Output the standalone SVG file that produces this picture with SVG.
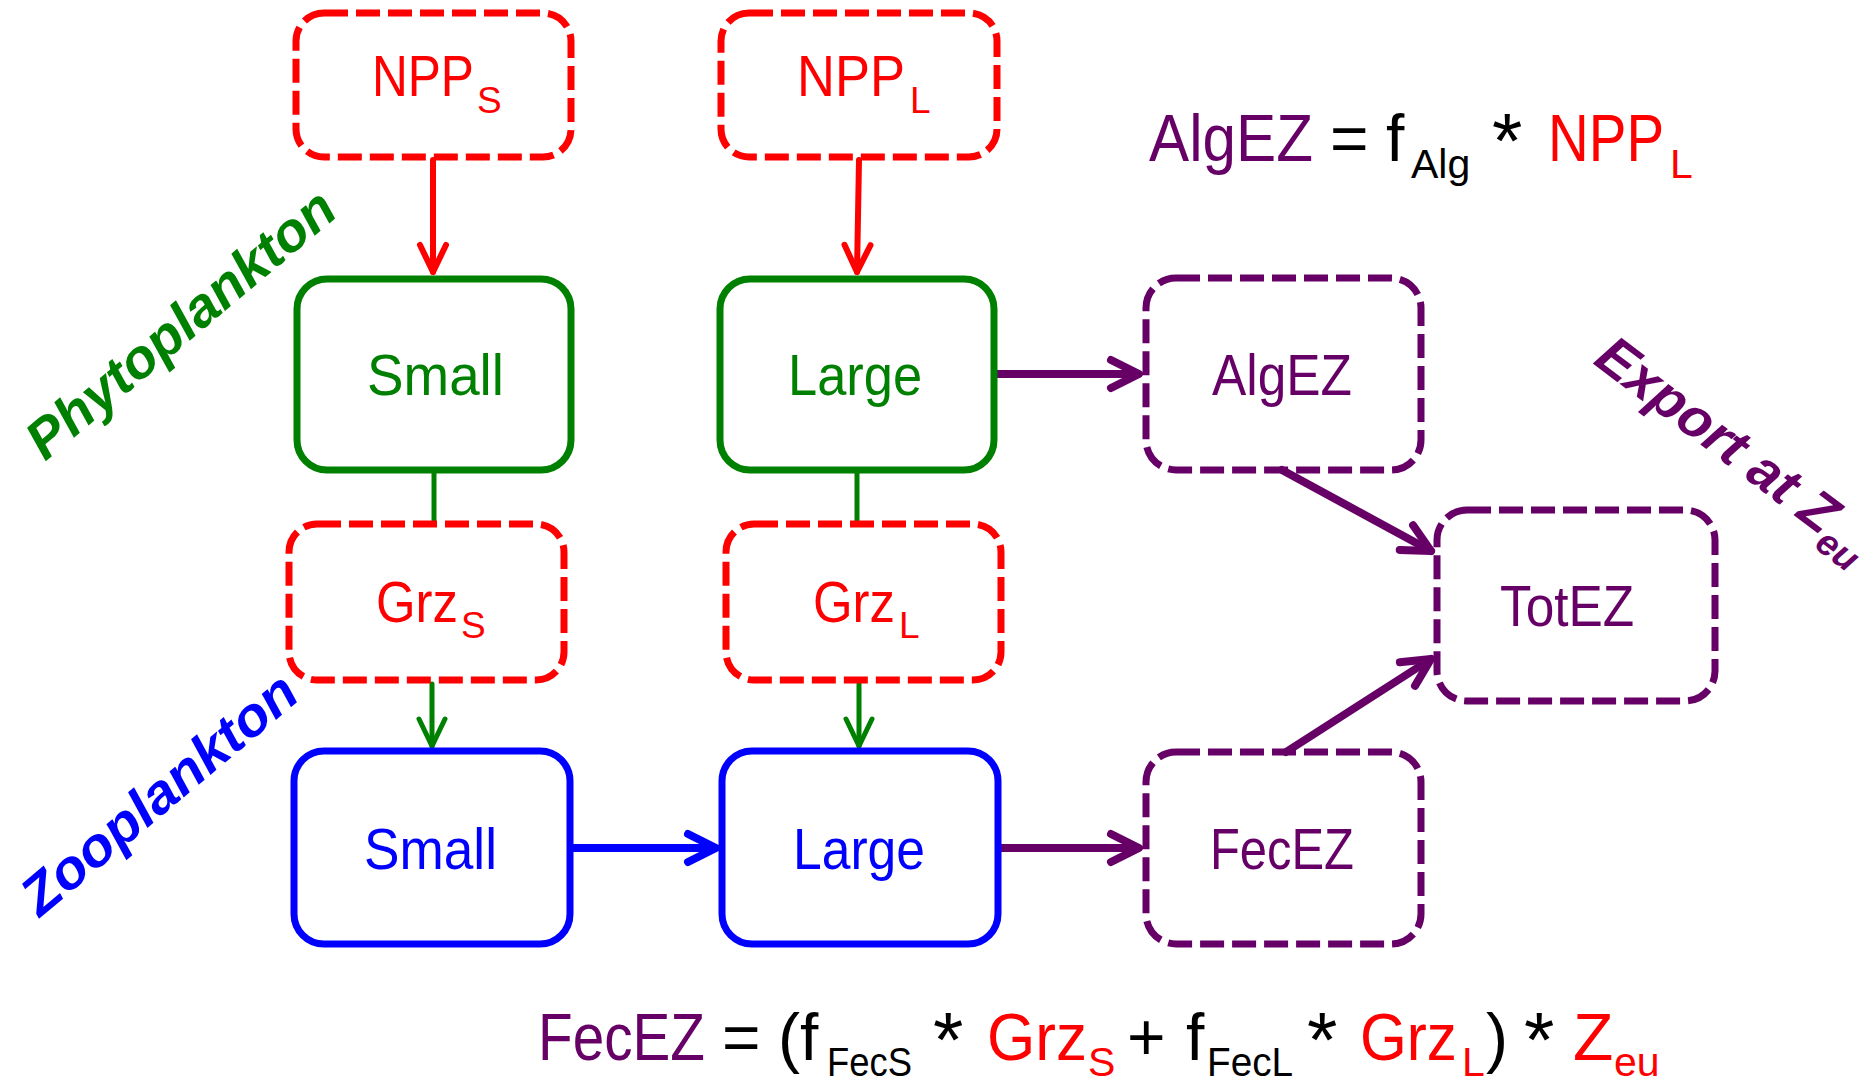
<svg xmlns="http://www.w3.org/2000/svg" width="1876" height="1082" viewBox="0 0 1876 1082">
<style>
text{font-family:"Liberation Sans",Arial,sans-serif}
.box{fill:none;stroke-width:7}
.dash{stroke-dasharray:24 8}
.r{stroke:#ff0000}.g{stroke:#008000}.b{stroke:#0000ff}.p{stroke:#660066}
.tr{fill:#ff0000}.tg{fill:#008000}.tb{fill:#0000ff}.tp{fill:#660066}.tk{fill:#000000}
.lbl{font-size:57px}
.sub{font-size:37px}
.eq{font-size:66px}
.eqs{font-size:41px}
.ast{font-size:78px}
.side{font-size:55px;font-weight:bold;font-style:italic}
.c{fill:none;stroke-linecap:round}
</style>
<defs>
<marker id="mr" markerUnits="userSpaceOnUse" orient="auto" overflow="visible" refX="0" refY="0" markerWidth="40" markerHeight="40"><path d="M-27,-13 L0,0 L-27,13" fill="none" stroke="#ff0000" stroke-width="6" stroke-linecap="round" stroke-linejoin="round"/></marker>
<marker id="mg" markerUnits="userSpaceOnUse" orient="auto" overflow="visible" refX="0" refY="0" markerWidth="40" markerHeight="40"><path d="M-27,-13 L0,0 L-27,13" fill="none" stroke="#008000" stroke-width="5" stroke-linecap="round" stroke-linejoin="round"/></marker>
<marker id="mb" markerUnits="userSpaceOnUse" orient="auto" overflow="visible" refX="0" refY="0" markerWidth="40" markerHeight="40"><path d="M-28,-14 L0,0 L-28,14" fill="none" stroke="#0000ff" stroke-width="8" stroke-linecap="round" stroke-linejoin="round"/></marker>
<marker id="mp" markerUnits="userSpaceOnUse" orient="auto" overflow="visible" refX="0" refY="0" markerWidth="40" markerHeight="40"><path d="M-28,-14 L0,0 L-28,14" fill="none" stroke="#660066" stroke-width="8" stroke-linecap="round" stroke-linejoin="round"/></marker>
</defs>
<rect width="1876" height="1082" fill="#ffffff"/>

<g id="connectors">
<line class="c r" x1="433" y1="160" x2="433" y2="272" stroke-width="6" marker-end="url(#mr)"/>
<line class="c r" x1="859" y1="160" x2="857" y2="272" stroke-width="6" marker-end="url(#mr)"/>
<line class="c g" x1="434" y1="473" x2="434" y2="521" stroke-width="5" style="stroke-linecap:butt"/>
<line class="c g" x1="857" y1="473" x2="857" y2="521" stroke-width="5" style="stroke-linecap:butt"/>
<line class="c g" x1="432" y1="684" x2="432" y2="746" stroke-width="5" marker-end="url(#mg)"/>
<line class="c g" x1="859" y1="684" x2="859" y2="746" stroke-width="5" marker-end="url(#mg)"/>
<line class="c b" x1="573" y1="848" x2="716" y2="848" stroke-width="8" marker-end="url(#mb)" style="stroke-linecap:butt"/>
<line class="c p" x1="997" y1="374" x2="1139" y2="374" stroke-width="8" marker-end="url(#mp)" style="stroke-linecap:butt"/>
<line class="c p" x1="1001" y1="848" x2="1139" y2="848" stroke-width="8" marker-end="url(#mp)" style="stroke-linecap:butt"/>
<line class="c p" x1="1282" y1="470" x2="1431" y2="551" stroke-width="8" marker-end="url(#mp)"/>
<line class="c p" x1="1286" y1="752" x2="1431" y2="659" stroke-width="8" marker-end="url(#mp)"/>
</g>

<g id="npp-s">
<rect class="box dash r" x="296" y="13" width="275" height="144" rx="28"/>
<text class="lbl tr" transform="translate(372,96) scale(0.870,1)">NPP</text>
<text class="sub tr" x="477" y="113">S</text>
</g>
<g id="npp-l">
<rect class="box dash r" x="721" y="13" width="276" height="144" rx="28"/>
<text class="lbl tr" transform="translate(797,96) scale(0.921,1)">NPP</text>
<text class="sub tr" x="910" y="113">L</text>
</g>

<g id="phyto-small">
<rect class="box g" x="297" y="279" width="274" height="191" rx="30"/>
<text class="lbl tg" transform="translate(367,395) scale(0.961,1)">Small</text>
</g>
<g id="phyto-large">
<rect class="box g" x="720" y="279" width="274" height="191" rx="30"/>
<text class="lbl tg" transform="translate(788,395) scale(0.920,1)">Large</text>
</g>

<g id="grz-s">
<rect class="box dash r" x="289" y="524" width="275" height="156" rx="28"/>
<text class="lbl tr" transform="translate(376,622) scale(0.893,1)">Grz</text>
<text class="sub tr" x="461" y="638">S</text>
</g>
<g id="grz-l">
<rect class="box dash r" x="726" y="524" width="275" height="156" rx="28"/>
<text class="lbl tr" transform="translate(813,622) scale(0.893,1)">Grz</text>
<text class="sub tr" x="899" y="638">L</text>
</g>

<g id="zoo-small">
<rect class="box b" x="294" y="751" width="276" height="193" rx="30"/>
<text class="lbl tb" transform="translate(364,869) scale(0.933,1)">Small</text>
</g>
<g id="zoo-large">
<rect class="box b" x="722" y="751" width="276" height="193" rx="30"/>
<text class="lbl tb" transform="translate(793,869) scale(0.906,1)">Large</text>
</g>

<g id="algez">
<rect class="box dash p" x="1146" y="278" width="275" height="192" rx="30"/>
<text class="lbl tp" transform="translate(1212,395) scale(0.902,1)">AlgEZ</text>
</g>
<g id="totez">
<rect class="box dash p" x="1437" y="510" width="278" height="191" rx="30"/>
<text class="lbl tp" transform="translate(1500,626) scale(0.902,1)">TotEZ</text>
</g>
<g id="fecez">
<rect class="box dash p" x="1146" y="752" width="275" height="192" rx="30"/>
<text class="lbl tp" transform="translate(1210,869) scale(0.858,1)">FecEZ</text>
</g>

<g id="label-phyto">
<text class="side tg" transform="translate(45,462) rotate(-40)" textLength="385" lengthAdjust="spacingAndGlyphs">Phytoplankton</text>
</g>
<g id="label-zoo">
<text class="side tb" transform="translate(40,918) rotate(-40)" textLength="342" lengthAdjust="spacingAndGlyphs">Zooplankton</text>
</g>
<g id="label-export">
<text class="side tp" transform="translate(1592,363) rotate(37)" font-size="54">Export at Z<tspan font-size="37" dy="14">eu</tspan></text>
</g>

<g id="eq-alg">
<text class="eq tp" transform="translate(1149,161) scale(0.913,1)">AlgEZ</text>
<text class="eq tk" x="1330" y="161">=</text>
<text class="eq tk" x="1386" y="161">f</text>
<text class="eqs tk" x="1411" y="178">Alg</text>
<text class="ast tk" x="1492" y="168">*</text>
<text class="eq tr" transform="translate(1548,161) scale(0.855,1)">NPP</text>
<text class="eqs tr" x="1670" y="178">L</text>
</g>

<g id="eq-fec">
<text class="eq tp" transform="translate(538,1060) scale(0.859,1)">FecEZ</text>
<text class="eq tk" x="722" y="1060">=</text>
<text class="eq tk" x="778" y="1060">(</text>
<text class="eq tk" x="800" y="1060">f</text>
<text class="eqs tk" transform="translate(827,1076) scale(0.888,1)">FecS</text>
<text class="ast tk" x="933" y="1067">*</text>
<text class="eq tr" transform="translate(987,1060) scale(0.94,1)">Grz</text>
<text class="eqs tr" x="1088" y="1076">S</text>
<text class="eq tk" x="1127" y="1060">+</text>
<text class="eq tk" x="1186" y="1060">f</text>
<text class="eqs tk" transform="translate(1207,1076) scale(0.944,1)">FecL</text>
<text class="ast tk" x="1307" y="1067">*</text>
<text class="eq tr" transform="translate(1360,1060) scale(0.912,1)">Grz</text>
<text class="eqs tr" x="1462" y="1076">L</text>
<text class="eq tk" x="1486" y="1060">)</text>
<text class="ast tk" x="1524" y="1067">*</text>
<text class="eq tr" x="1573" y="1060">Z</text>
<text class="eqs tr" x="1614" y="1076">eu</text>
</g>
</svg>
